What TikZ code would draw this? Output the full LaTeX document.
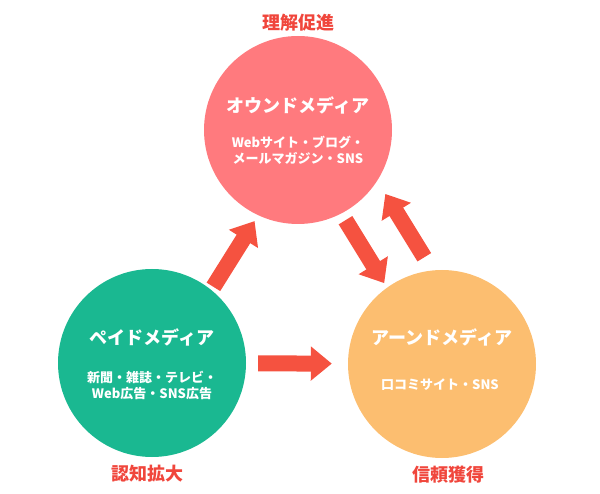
\documentclass[tikz,border=0pt]{standalone}
\usepackage{fontspec}
\setmainfont{Noto Sans CJK JP}
\definecolor{OwnedPink}{RGB}{255,122,126}
\definecolor{PaidGreen}{RGB}{26,184,145}
\definecolor{EarnedOrange}{RGB}{252,190,112}
\definecolor{ArrowRed}{RGB}{245,82,64}
\definecolor{GoalRed}{RGB}{240,70,60}
\usetikzlibrary{arrows.meta,positioning}

\begin{document}
\begin{tikzpicture}[
    x=1pt, y=-1pt,
    media/.style={circle, minimum size=188pt, inner sep=0pt},
    mtitle/.style={text=white, font=\bfseries\fontsize{18}{20}\selectfont},
    msub/.style={text=white, align=center, font=\bfseries\fontsize{13}{16}\selectfont},
    goal/.style={text=GoalRed, inner sep=0pt, font=\bfseries\fontsize{18}{20}\selectfont},
    fat/.style={-{Triangle[length=21pt, width=33pt]}, line width=16pt, draw=ArrowRed}
]
    \useasboundingbox (0,0) rectangle (600,494);

    % the three media circles
    \node[media, fill=OwnedPink] (owned) at (298,130) {};
    \node[media, fill=PaidGreen] (paid) at (152,363) {};
    \node[media, fill=EarnedOrange] (earned) at (442,364) {};

    \node[mtitle] (ownedT) at ([yshift=25pt]owned.center) {オウンドメディア};
    \node[msub] (ownedS) at ([yshift=-20pt]owned.center) {Webサイト・ブログ・\\メールマガジン・SNS};
    \node[mtitle] (paidT) at ([yshift=26pt]paid.center) {ペイドメディア};
    \node[msub] (paidS) at ([yshift=-22pt]paid.center) {新聞・雑誌・テレビ・\\Web広告・SNS広告};
    \node[mtitle] (earnedT) at ([yshift=27pt]earned.center) {アーンドメディア};
    \node[msub] (earnedS) at ([xshift=-2pt, yshift=-21pt]earned.center) {口コミサイト・SNS};

    % goals
    \node[goal, above=4pt of owned] (ownedG) {理解促進};
    \node[goal, below=8pt of paid, xshift=-5pt] (paidG) {認知拡大};
    \node[goal, below=8pt of earned, xshift=6pt] (earnedG) {信頼獲得};

    % flows
    \draw[fat, shorten <=3pt, shorten >=6pt, transform canvas={xshift=9.8pt, yshift=-6.2pt}] (paid) -- (owned);
    \draw[fat, shorten <=7.5pt, shorten >=5pt, transform canvas={xshift=-5.8pt, yshift=-3.6pt}] (owned) -- (earned);
    \draw[fat, shorten <=6pt, shorten >=6pt, transform canvas={xshift=34.8pt, yshift=21.4pt}] (earned) -- (owned);
    \draw[fat, shorten <=12pt, shorten >=16pt] (paid) -- (earned);
\end{tikzpicture}
\end{document}
